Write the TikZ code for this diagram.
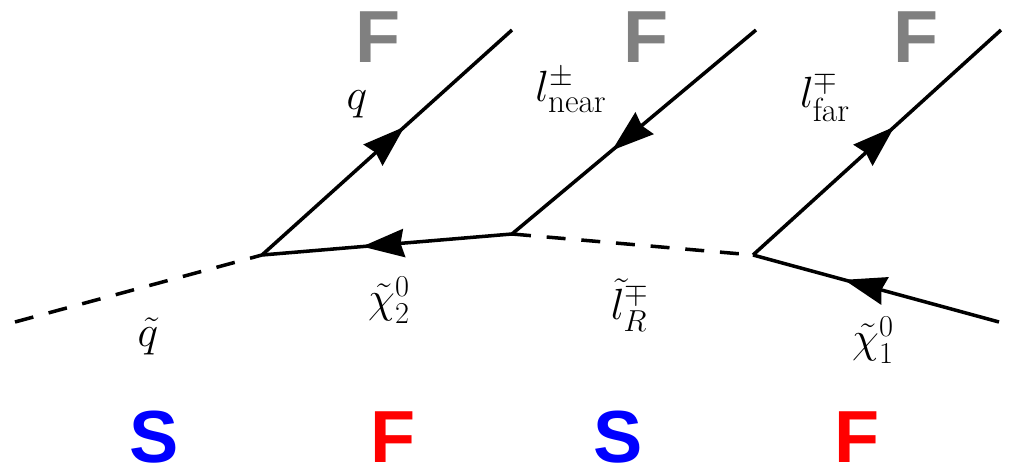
\documentclass[tikz,border=0pt]{standalone}
\usepackage{amsmath,amssymb}
\usepackage{fontspec}
\newfontfamily\boldsans[BoldFont={Liberation Sans Bold}]{Liberation Sans}
\DeclareMathSizes{23}{23}{19}{15}
\usetikzlibrary{arrows.meta,decorations.markings}
\definecolor{spingray}{RGB}{128,128,128}
\definecolor{scalarblue}{RGB}{0,0,255}
\definecolor{fermionred}{RGB}{255,0,0}
\begin{document}
\begin{tikzpicture}[x=0.02cm,y=-0.02cm,
  line width=2pt,
  fermion/.style={postaction={decorate},decoration={markings,
    mark=at position #1 with {\arrow{Stealth[length=24pt,width=16pt,inset=2pt]}}}},
  fermion/.default=0.55,
  scalar/.style={dash pattern=on 10.8pt off 9pt},
  particle/.style={inner sep=0pt,font=\fontsize{23}{28}\selectfont},
  spinlabel/.style={inner sep=0pt,font=\boldsans\bfseries\fontsize{42}{50}\selectfont}]
\useasboundingbox (0,0) rectangle (1009,476);
% vertices and free ends
\coordinate (sqin) at (15,322);
\coordinate (va) at (262,255);
\coordinate (vb) at (512,234);
\coordinate (vc) at (753,255);
\coordinate (qout) at (512,30);
\coordinate (lnear) at (756,30);
\coordinate (lfar) at (1001,30);
\coordinate (chiout) at (999,322);
% lines
\draw[scalar] (sqin) -- (va);
\draw[fermion=0.57] (va) -- (qout);
\draw[fermion=0.6] (vb) -- (va);
\draw[fermion=0.59] (lnear) -- (vb);
\draw[scalar] (vb) -- (vc);
\draw[fermion=0.57] (vc) -- (lfar);
\draw[fermion=0.63] (chiout) -- (vc);
% particle labels
\node[particle] (lq) at (357,104) {$q$};
\node[particle] (lln) at (571,90) {$l^{\pm}_{\text{near}}$};
\node[particle] (llf) at (825,97) {$l^{\mp}_{\text{far}}$};
\node[particle] (lsq) at (148,336) {$\tilde{q}$};
\node[particle] (lchi2) at (389,300) {$\tilde{\chi}^0_2$};
\node[particle] (lsl) at (630,305) {$\tilde{l}^{\mp}_R$};
\node[particle] (lchi1) at (873,340) {$\tilde{\chi}^0_1$};
% spin labels
\node[spinlabel,text=spingray] (ftop1) at (378,37) {F};
\node[spinlabel,text=spingray] (ftop2) at (646,37) {F};
\node[spinlabel,text=spingray] (ftop3) at (916,37) {F};
\node[spinlabel,text=scalarblue] (sbot1) at (154,437) {S};
\node[spinlabel,text=fermionred] (fbot1) at (393,437) {F};
\node[spinlabel,text=scalarblue] (sbot2) at (618,437) {S};
\node[spinlabel,text=fermionred] (fbot2) at (857,437) {F};
\end{tikzpicture}
\end{document}
